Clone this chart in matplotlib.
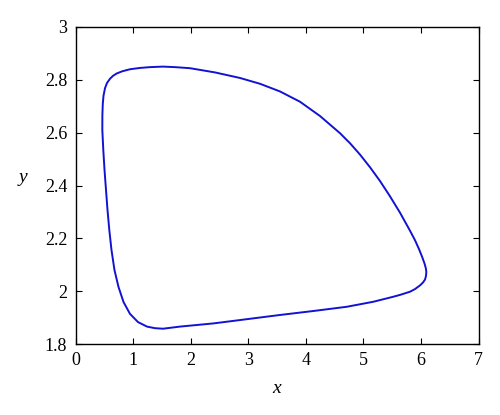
import numpy as np
import matplotlib
matplotlib.use("Agg")
import matplotlib.pyplot as plt
from matplotlib.patches import Polygon

x_pts = [0.530, 0.504, 0.483, 0.466, 0.467, 0.474, 0.486, 0.512, 0.547, 0.599,
         0.651, 0.716, 0.808, 0.947, 1.120, 1.294, 1.520, 1.728, 1.989, 2.423,
         2.857, 3.205, 3.552, 3.900, 4.247, 4.594, 4.768, 4.942, 5.116, 5.289,
         5.463, 5.637, 5.810, 5.897, 5.967, 6.019, 6.062, 6.085, 6.094, 6.088,
         6.071, 6.036, 5.984, 5.897, 5.810, 5.637, 5.520, 5.173, 4.711, 4.131,
         3.552, 2.974, 2.394, 1.815, 1.520, 1.381, 1.242, 1.086, 0.947, 0.834,
         0.747, 0.677, 0.625, 0.587, 0.556]
y_pts = [2.383, 2.459, 2.534, 2.610, 2.667, 2.709, 2.739, 2.768, 2.788, 2.804,
         2.815, 2.824, 2.832, 2.840, 2.845, 2.848, 2.850, 2.848, 2.844, 2.828,
         2.807, 2.785, 2.756, 2.717, 2.663, 2.598, 2.560, 2.517, 2.469, 2.417,
         2.359, 2.297, 2.229, 2.193, 2.159, 2.131, 2.105, 2.087, 2.073, 2.058,
         2.044, 2.033, 2.022, 2.008, 1.998, 1.986, 1.979, 1.960, 1.941, 1.925,
         1.910, 1.894, 1.878, 1.866, 1.858, 1.860, 1.866, 1.883, 1.914, 1.959,
         2.016, 2.080, 2.156, 2.232, 2.307]

plt.rcParams['font.family'] = ['Liberation Serif', 'DejaVu Serif']

fig = plt.figure(figsize=(5, 4.15), dpi=100)
ax = fig.add_axes([0.151, 0.171, 0.806, 0.764])
orbit = Polygon(np.column_stack([x_pts, y_pts]), closed=True, fill=False,
                edgecolor='#1212d2', lw=1.4, joinstyle='round')
ax.add_patch(orbit)

ax.set_xlim(0, 7)
ax.set_ylim(1.8, 3)
ax.set_xticks(np.arange(0, 8, 1))
ax.set_yticks([1.8, 2, 2.2, 2.4, 2.6, 2.8, 3])
ax.set_yticklabels(['1.8', '2', '2.2', '2.4', '2.6', '2.8', '3'])
ax.tick_params(direction='in', top=True, right=True, labelsize=13, length=4, pad=6)
for s in ax.spines.values():
    s.set_linewidth(1.0)
ax.set_xlabel('x', fontstyle='italic', fontsize=14, labelpad=8)
ax.set_ylabel('y', fontstyle='italic', fontsize=14, rotation=0, labelpad=16)

fig.savefig('out.png', dpi=100)
